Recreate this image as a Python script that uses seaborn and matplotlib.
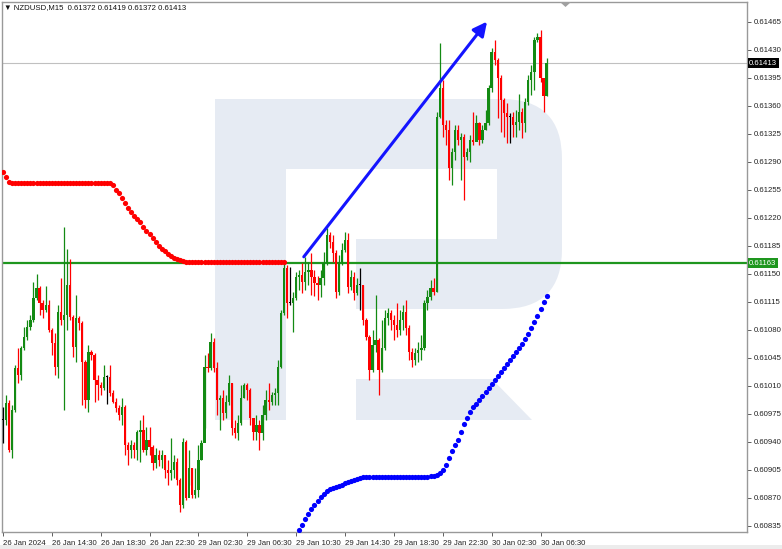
import numpy as np
import pandas as pd
import matplotlib
matplotlib.use("Agg")
import matplotlib.pyplot as plt
import matplotlib.patches as mpatches
import matplotlib.transforms as mtransforms
import seaborn as sns

sns.set_theme(style="white")
plt.rcParams['font.family'] = ['Liberation Sans', 'DejaVu Sans']

# prices are in points (1 point = 0.00001)
symbol = "NZDUSD,M15"
first_open = 60967

close_pts = [
    60967, 60988, 60930, 60980, 61032, 61023, 61057, 61071, 61083, 61092,
    61120, 61132, 61113, 61105, 61111, 61080, 61063, 61033, 61102, 61092,
    61098, 61136, 61096, 61058, 61095, 61088, 61040, 60992, 61052, 61048,
    61017, 61011, 61007, 61021, 61021, 61001, 60990, 60982, 60973, 60983,
    60936, 60930, 60936, 60930, 60952, 60955, 60930, 60942, 60933, 60913,
    60923, 60917, 60923, 60905, 60901, 60905, 60915, 60892, 60861, 60940,
    60870, 60907, 60873, 60880, 60917, 60938, 61033, 61032, 61065, 61032,
    60992, 60995, 60976, 60990, 61013, 60957, 60951, 60963, 60995, 61011,
    61005, 60970, 60952, 60961, 60951, 60973, 60992, 60990, 60998, 61001,
    61033, 61101, 61157, 61113, 61113, 61120, 61146, 61148, 61140, 61152,
    61155, 61146, 61138, 61136, 61145, 61163, 61198, 61190, 61176, 61127,
    61165, 61180, 61192, 61133, 61146, 61126, 61136, 61136, 61092, 61071,
    61030, 61061, 61067, 61030, 61057, 61095, 61101, 61092, 61086, 61080,
    61092, 61102, 61082, 61052, 61042, 61051, 61055, 61057, 61113, 61121,
    61132, 61127, 61346, 61382, 61336, 61330, 61282, 61302, 61330, 61317,
    61321, 61296, 61302, 61317, 61315, 61338, 61317, 61330, 61338, 61382,
    61427, 61417, 61395, 61367, 61351, 61346, 61346, 61336, 61340, 61352,
    61338, 61365, 61392, 61402, 61442, 61446, 61395, 61372, 61413,
]
high_pts = [
    60983, 60998, 60992, 60986, 61036, 61057, 61060, 61083, 61092, 61098,
    61140, 61150, 61135, 61117, 61135, 61117, 61082, 61076, 61111, 61145,
    61208, 61181, 61168, 61098, 61123, 61097, 61091, 61042, 61061, 61055,
    61051, 61023, 61015, 61036, 61023, 61036, 61005, 60995, 60986, 60995,
    60986, 60940, 60942, 60940, 60955, 60967, 60973, 60958, 60958, 60936,
    60932, 60930, 60930, 60923, 60917, 60945, 60923, 60920, 60895, 60945,
    60942, 60930, 60907, 60907, 60936, 60942, 61048, 61051, 61076, 61070,
    61040, 60998, 61005, 60998, 61023, 61013, 60967, 60973, 61011, 61013,
    61013, 61007, 60970, 60973, 60967, 60986, 61005, 61013, 61002, 61007,
    61042, 61105, 61163, 61161, 61158, 61127, 61152, 61155, 61163, 61171,
    61165, 61176, 61155, 61147, 61155, 61177, 61207, 61202, 61198, 61180,
    61173, 61188, 61202, 61201, 61155, 61152, 61145, 61157, 61136, 61095,
    61073, 61080, 61123, 61070, 61092, 61105, 61107, 61105, 61098, 61113,
    61105, 61111, 61117, 61086, 61057, 61057, 61065, 61073, 61117, 61130,
    61142, 61145, 61352, 61438, 61392, 61342, 61342, 61307, 61336, 61336,
    61326, 61325, 61307, 61323, 61352, 61348, 61340, 61336, 61355, 61386,
    61432, 61442, 61420, 61398, 61370, 61363, 61351, 61352, 61355, 61375,
    61357, 61370, 61398, 61411, 61446, 61451, 61455, 61395, 61419,
]
low_pts = [
    60938, 60961, 60927, 60920, 60977, 61013, 61017, 61055, 61067, 61080,
    61090, 61117, 61098, 61095, 61102, 61077, 61048, 61023, 61020, 61086,
    60980, 61080, 61092, 61046, 61040, 61080, 60986, 60982, 60977, 61042,
    60990, 60992, 60998, 61005, 60987, 60997, 60988, 60977, 60967, 60961,
    60923, 60911, 60920, 60920, 60917, 60915, 60927, 60923, 60923, 60905,
    60907, 60910, 60907, 60895, 60886, 60892, 60895, 60886, 60852, 60857,
    60867, 60886, 60870, 60870, 60871, 60917, 60957, 61027, 61030, 61027,
    60973, 60955, 60967, 60970, 60986, 60948, 60945, 60942, 60961, 60995,
    60992, 60961, 60942, 60942, 60930, 60942, 60967, 60980, 60986, 60986,
    60986, 61032, 61098, 61095, 61111, 61077, 61117, 61130, 61126, 61130,
    61136, 61123, 61122, 61117, 61121, 61136, 61161, 61182, 61165, 61120,
    61123, 61161, 61177, 61126, 61130, 61117, 61123, 61105, 61086, 61067,
    61017, 61027, 61052, 60998, 61027, 61055, 61086, 61080, 61067, 61071,
    61073, 61080, 61073, 61042, 61033, 61036, 61040, 61042, 61055, 61105,
    61117, 61123, 61127, 61345, 61321, 61311, 61267, 61261, 61292, 61311,
    61267, 61242, 61292, 61290, 61311, 61317, 61311, 61313, 61330, 61336,
    61377, 61411, 61345, 61327, 61321, 61313, 61313, 61321, 61321, 61330,
    61320, 61327, 61361, 61373, 61380, 61440, 61390, 61352, 61372,
]

# upper trailing stop (red dots), from bar 0
red_start = 0
red_dots = [
    61277, 61271, 61264,
    61263, 61263, 61263, 61263, 61263, 61263, 61263, 61263, 61263, 61263, 61263,
    61263, 61263, 61263, 61263, 61263, 61263, 61263, 61263, 61263, 61263, 61263,
    61263, 61263, 61263, 61263, 61263, 61263, 61263, 61263, 61263, 61263, 61263,
    61261, 61255, 61251, 61244, 61238, 61232, 61227, 61222, 61218, 61214,
    61208, 61203, 61199, 61194, 61189, 61184, 61181, 61178, 61174, 61172,
    61169, 61168, 61167, 61166,
    61164, 61164, 61164, 61164, 61164, 61164, 61164, 61164, 61164, 61164, 61164,
    61164, 61164, 61164, 61164, 61164, 61164, 61164, 61164, 61164, 61164, 61164,
    61164, 61164, 61164, 61164, 61164, 61164, 61164, 61164, 61164, 61164, 61164,
]
# lower trailing stop (blue dots), from bar 97
blue_start = 97
blue_dots = [
    60830, 60836, 60843, 60850, 60856, 60861, 60866, 60871, 60875, 60878,
    60881, 60882, 60883, 60885, 60886, 60888, 60890, 60891, 60892, 60893,
    60895, 60896, 60896,
    60896, 60896, 60896, 60896, 60896, 60896, 60896, 60896, 60896, 60896,
    60896, 60896, 60896, 60896, 60896, 60896, 60896, 60896, 60896, 60896,
    60897, 60897, 60898, 60901, 60905, 60911, 60920, 60928, 60936, 60942,
    60952, 60962, 60970, 60977, 60983, 60987, 60992, 60997, 61002, 61007,
    61012, 61017, 61022, 61027, 61032, 61037, 61042, 61047, 61052, 61057,
    61062, 61068, 61075, 61082, 61090, 61097, 61106, 61115, 61122,
]

level_line = 0.61163
arrow_start = (98.5, 0.61171)
arrow_end = (158.5, 0.61465)

x_tick_bars = [0, 16, 32, 48, 64, 80, 96, 112, 128, 144, 160, 176]
x_tick_labels = ["26 Jan 2024", "26 Jan 14:30", "26 Jan 18:30", "26 Jan 22:30",
                 "29 Jan 02:30", "29 Jan 06:30", "29 Jan 10:30", "29 Jan 14:30",
                 "29 Jan 18:30", "29 Jan 22:30", "30 Jan 02:30", "30 Jan 06:30"]
y_ticks = [0.60835, 0.60870, 0.60905, 0.60940, 0.60975, 0.61010, 0.61045,
           0.61080, 0.61115, 0.61150, 0.61185, 0.61220, 0.61255, 0.61290,
           0.61325, 0.61360, 0.61395, 0.61430, 0.61465]

df = pd.DataFrame({"close": np.array(close_pts) / 1e5,
                   "high": np.array(high_pts) / 1e5,
                   "low": np.array(low_pts) / 1e5})
df["open"] = df["close"].shift(1)
df.loc[0, "open"] = first_open / 1e5
df["bar"] = np.arange(len(df))

red_df = pd.DataFrame({"bar": red_start + np.arange(len(red_dots)), "price": np.array(red_dots) / 1e5})
blue_df = pd.DataFrame({"bar": blue_start + np.arange(len(blue_dots)), "price": np.array(blue_dots) / 1e5})

UP = "#138a13"
DOWN = "#ff0000"
GREEN_LINE = "#1e961e"
FS = 5.6

fig = plt.figure(figsize=(7.82, 5.49), dpi=100)
ax = fig.add_axes([2 / 782, 17 / 549, 745 / 782, 530 / 549])
ax.set_facecolor("white")

# background watermark logo, in pixel coordinates
px = mtransforms.Affine2D().scale(1, -1).translate(0, 549)
wm = "#e6ebf3"
ax.add_patch(mpatches.FancyBboxPatch((215, 99), 347, 210, boxstyle="round,pad=0,rounding_size=60",
                                     fc=wm, ec="none", transform=px, zorder=0))
ax.add_patch(mpatches.Rectangle((215, 99), 71, 321, fc=wm, ec="none", transform=px, zorder=0.1))
ax.add_patch(mpatches.Rectangle((286, 169), 211, 70, fc="white", ec="none", transform=px, zorder=0.2))
ax.add_patch(mpatches.Rectangle((286, 239), 70, 70, fc="white", ec="none", transform=px, zorder=0.2))
ax.add_patch(mpatches.Polygon([(356, 379), (492, 379), (532, 420), (356, 420)], closed=True,
                              fc=wm, ec="none", transform=px, zorder=0.1))

# chart shift marker at the top
ax.add_patch(mpatches.Polygon([(560, 2), (571, 2), (565.5, 7)], closed=True,
                              fc="#a0a0a0", ec="none", transform=px, zorder=6, clip_on=False))

ax.axhline(df["close"].iloc[-1], color="#c0c0c0", lw=0.8, zorder=1)
ax.axhline(level_line, color=GREEN_LINE, lw=1.6, zorder=1.5)

# candles
colors = np.where(df["close"] > df["open"], UP, np.where(df["close"] < df["open"], DOWN, "#000000"))
ax.vlines(df["bar"], df["low"], df["high"], colors=colors, lw=0.9, zorder=3)
body_lo = np.minimum(df["open"], df["close"])
body_h = np.maximum(np.abs(df["close"] - df["open"]), 0.000012)
ax.bar(df["bar"], body_h, bottom=body_lo, width=0.75, color=colors, linewidth=0, zorder=3)

sns.scatterplot(data=red_df, x="bar", y="price", color="#ff0000", s=14, linewidth=0, ax=ax, legend=False, zorder=4)
sns.scatterplot(data=blue_df, x="bar", y="price", color="#0000ff", s=14, linewidth=0, ax=ax, legend=False, zorder=4)

ax.annotate("", xy=arrow_end, xytext=arrow_start,
            arrowprops=dict(arrowstyle="-|>,head_length=0.7,head_width=0.35", color="#1414ff", lw=2.2,
                            shrinkA=0, shrinkB=0), zorder=5)

ax.set_xlim(-0.3, 243.6)
ax.set_ylim(0.60827, 0.614895)
ax.set_xlabel("")
ax.set_ylabel("")

ax.set_yticks(y_ticks)
ax.set_yticklabels([f"{v:.5f}" for v in y_ticks])
ax.yaxis.tick_right()
ax.tick_params(axis="y", which="both", right=True, left=False, length=3, width=0.6,
               color="#444444", labelsize=FS, labelcolor="#222222", pad=2)
ax.set_xticks(x_tick_bars)
ax.set_xticklabels(x_tick_labels)
ax.tick_params(axis="x", bottom=True, length=3, width=0.6, color="#444444",
               labelsize=FS, labelcolor="#222222", pad=2.5)
for lbl in ax.get_xticklabels():
    lbl.set_ha("left")

for s in ax.spines.values():
    s.set_color("#999999")
    s.set_linewidth(1.0)

# price boxes on the right scale
blend = mtransforms.blended_transform_factory(ax.transAxes, ax.transData)
ax.text(1.003, df["close"].iloc[-1], f"{df['close'].iloc[-1]:.5f}", transform=blend, fontsize=FS,
        color="white", va="center", ha="left", zorder=6, clip_on=False,
        bbox=dict(boxstyle="square,pad=0.2", fc="black", ec="none"))
ax.text(1.003, level_line, f"{level_line:.5f}", transform=blend, fontsize=FS,
        color="white", va="center", ha="left", zorder=6, clip_on=False,
        bbox=dict(boxstyle="square,pad=0.2", fc=GREEN_LINE, ec="none"))

last = df.iloc[-1]
fig.text(4 / 782, 1 - 8 / 549,
         f"\u25bc {symbol}  {last['open']:.5f} {last['high']:.5f} {last['low']:.5f} {last['close']:.5f}",
         fontsize=FS, color="#111111", va="center", ha="left")

fig.patches.append(mpatches.Rectangle((0, 0), 1, 4 / 549, transform=fig.transFigure,
                                      fc="#ececec", ec="none"))

fig.savefig("out.png", dpi=100)
